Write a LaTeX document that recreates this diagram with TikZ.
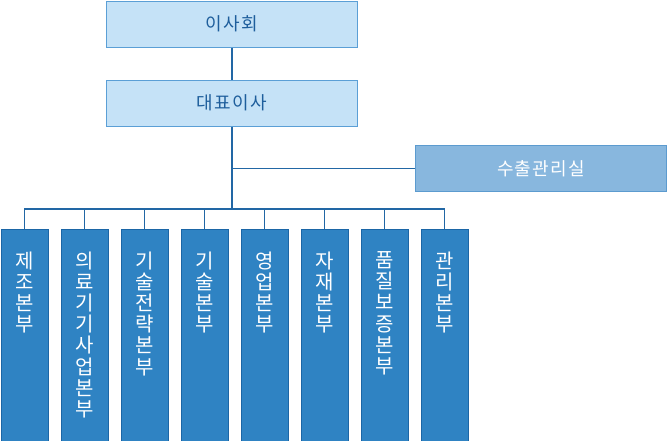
\documentclass[tikz,border=0pt]{standalone}
\usepackage{fontspec}
\setmainfont{Noto Sans CJK KR}
\newfontfamily\spacedfont[LetterSpace=7]{Noto Sans CJK KR}
\usetikzlibrary{positioning}

\definecolor{topfill}{HTML}{C5E2F7}
\definecolor{topline}{HTML}{5B9FD6}
\definecolor{toptext}{HTML}{1E5E9C}
\definecolor{officefill}{HTML}{88B7DE}
\definecolor{officeline}{HTML}{5C9BCF}
\definecolor{deptfill}{HTML}{2F83C3}
\definecolor{deptline}{HTML}{1B66A6}
\definecolor{linkcol}{HTML}{2267A5}

\tikzset{
  board/.style={draw=topline, line width=1pt, fill=topfill, text=toptext,
    minimum width=251pt, minimum height=46pt, inner sep=0pt,
    font=\spacedfont\fontsize{18}{22}\selectfont},
  office/.style={draw=officeline, line width=1pt, fill=officefill, text=white,
    minimum width=251pt, minimum height=46pt, inner sep=0pt,
    font=\spacedfont\fontsize{18}{22}\selectfont},
  dept/.style={draw=deptline, line width=1pt, fill=deptfill, text=white,
    anchor=north, inner sep=0pt, font=\fontsize{20}{21.2}\selectfont},
  link/.style={draw=linkcol, line width=1.3pt}
}

\begin{document}
\begin{tikzpicture}[x=1pt,y=1pt]
  \useasboundingbox (0,0) rectangle (668,-440);

  % Top of the chart
  \node[board] (board) at (232,-24) {이사회};
  \node[board] (ceo) at (232,-103) {대표이사};
  \node[office] (export) at (541,-168.5) {수출관리실};

  % Bus above the departments
  \coordinate (bus) at (232,-209);

  % Connect the top boxes
  \draw[link] (board) -- (ceo);
  \draw[link] (ceo.south) -- (bus);
  \draw[link] (export.west) -- (export.west -| ceo.south);

  % Departments
  \foreach \txt [count=\i] in {{제\\조\\본\\부}, {의\\료\\기\\기\\사\\업\\본\\부},
      {기\\술\\전\\략\\본\\부}, {기\\술\\본\\부}, {영\\업\\본\\부},
      {자\\재\\본\\부}, {품\\질\\보\\증\\본\\부}, {관\\리\\본\\부}}{
    \node[dept] (d\i) at ({24.5+60*(\i-1)},-229)
      {\parbox[t][216pt][t]{47pt}{\vspace*{22pt}\centering\txt}};
    \draw[link] (d\i.north) |- (bus);
  }
\end{tikzpicture}
\end{document}
